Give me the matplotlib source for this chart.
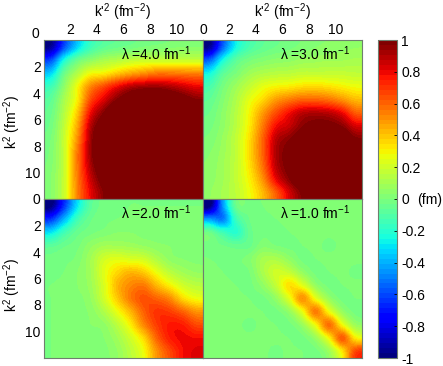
import numpy as np
import matplotlib
matplotlib.use("Agg")
import matplotlib.pyplot as plt
from matplotlib.cm import ScalarMappable
from matplotlib.colors import Normalize

plt.rcParams['font.family'] = ['Liberation Sans', 'DejaVu Sans']
plt.rcParams['mathtext.default'] = 'regular'

# Lower triangles of the symmetric matrices, sampled at k^2 = 0.5, 1.5, ... 11.5
lam4 = [
    [-.95],
    [-.60, -.25],
    [-.33, -.05, .12],
    [-.15, .04, .27, .52],
    [-.07, .10, .30, .65, .82],
    [-.04, .13, .38, .78, .98, 1.15],
    [-.02, .16, .45, .88, 1.08, 1.25, 1.4],
    [.00, .18, .50, .92, 1.15, 1.35, 1.5, 1.6],
    [.01, .18, .55, .93, 1.2, 1.4, 1.55, 1.65, 1.7],
    [.02, .18, .55, .90, 1.12, 1.35, 1.55, 1.65, 1.7, 1.7],
    [.03, .18, .54, .85, 1.05, 1.28, 1.5, 1.6, 1.65, 1.7, 1.7],
    [.03, .18, .53, .80, .98, 1.15, 1.4, 1.55, 1.6, 1.65, 1.7, 1.7],
]
lam3 = [
    [-.95],
    [-.55, -.25],
    [-.25, -.08, .00],
    [-.12, -.01, .08, .17],
    [-.06, .02, .12, .25, .35],
    [-.03, .04, .14, .29, .48, .65],
    [-.01, .05, .15, .31, .55, .78, .86],
    [.01, .07, .17, .34, .60, .88, .97, 1.08],
    [.03, .08, .17, .35, .60, .90, 1.02, 1.18, 1.25],
    [.04, .09, .17, .33, .57, .88, 1.02, 1.18, 1.3, 1.35],
    [.05, .09, .17, .30, .50, .80, .97, 1.12, 1.25, 1.32, 1.35],
    [.06, .10, .16, .27, .42, .62, .84, 1.0, 1.15, 1.25, 1.3, 1.3],
]
lam2 = [
    [-1.0],
    [-.65, -.40],
    [-.30, -.15, -.05],
    [-.08, -.04, -.01, .05],
    [-.02, -.01, .01, .09, .20],
    [-.01, .00, .03, .09, .24, .35],
    [.00, .01, .03, .08, .22, .42, .52],
    [.00, .01, .02, .06, .20, .38, .55, .64],
    [.00, .01, .02, .04, .12, .26, .42, .60, .70],
    [.00, .01, .01, .03, .05, .15, .30, .52, .68, .76],
    [.00, .01, .01, .02, .03, .09, .20, .35, .60, .75, .79],
    [.00, .01, .01, .01, .02, .06, .15, .27, .50, .66, .78, .82],
]
lam1 = [
    [-1.0],
    [-.45, -.50],
    [-.04, -.15, -.20],
    [-.01, -.03, -.05, -.04],
    [.00, -.01, -.01, .02, .10],
    [.01, .00, -.01, .00, .11, .20],
    [.01, .01, .00, -.01, .05, .17, .34],
    [.01, .01, .01, .00, -.01, .06, .24, .50],
    [.01, .01, .01, .01, .00, -.01, .06, .26, .55],
    [.01, .01, .01, -.01, .01, .00, -.01, .07, .28, .58],
    [.01, .01, .01, .01, .01, .01, .00, -.01, .07, .29, .62],
    [.01, .01, .01, .01, .01, -.01, .01, .00, -.01, .08, .32, .66],
]
panel_labels = ["4.0", "3.0", "2.0", "1.0"]
axis_ticks = [2, 4, 6, 8, 10]
cbar_ticks = [-1, -0.8, -0.6, -0.4, -0.2, 0, 0.2, 0.4, 0.6, 0.8, 1]
cbar_labels = ["-1", "-0.8", "-0.6", "-0.4", "-0.2", "0", "0.2", "0.4", "0.6", "0.8", "1"]

W, H = 443, 366
FS = 10
fig = plt.figure(figsize=(W / 100, H / 100), dpi=100)


def px_axes(x0, y0, x1, y1):
    return fig.add_axes([x0 / W, 1 - y1 / H, (x1 - x0) / W, (y1 - y0) / H])


def full(tri):
    m = np.zeros((12, 12))
    for i, row in enumerate(tri):
        for j, v in enumerate(row):
            m[i, j] = m[j, i] = v
    return m


cmap = plt.get_cmap('jet', 64)
EDGE = '#6f7f6f'
boxes = [(44, 40, 203, 199), (203, 40, 362, 199), (44, 199, 203, 358), (203, 199, 362, 358)]
for n, (tri, box, lab) in enumerate(zip([lam4, lam3, lam2, lam1], boxes, panel_labels)):
    ax = px_axes(*box)
    ax.imshow(full(tri), extent=[0, 12, 12, 0], cmap=cmap, vmin=-1, vmax=1, aspect='auto',
              interpolation='catrom', interpolation_stage='data')
    ax.set_xlim(0, 12)
    ax.set_ylim(12, 0)
    for s in ax.spines.values():
        s.set_color(EDGE)
        s.set_linewidth(0.8)
    ax.xaxis.tick_top()
    ax.tick_params(length=0, labelsize=FS, pad=2.4)
    if n < 2:
        ax.set_xticks(([0] if n == 1 else []) + axis_ticks)
    else:
        ax.set_xticks([])
    if n % 2 == 0:
        ax.set_yticks(([0] if n == 2 else []) + axis_ticks)
    else:
        ax.set_yticks([])
    fig.text((box[0] + 77) / W, 1 - (box[1] + 13.5) / H, "λ =" + lab + " fm$^{-1}$",
             fontsize=FS, ha='left', va='center')

fig.text(35.5 / W, 1 - 34.5 / H, "0", fontsize=FS, ha='center', va='center')
for x in (122, 282):
    fig.text(x / W, 1 - 12 / H, "k'$^{2}$ (fm$^{-2}$)", fontsize=FS, ha='center', va='center')
for y in (122, 285):
    fig.text(12 / W, 1 - y / H, "k$^{2}$ (fm$^{-2}$)", fontsize=FS, ha='center', va='center', rotation=90)

cax = px_axes(378, 40, 397, 358)
cb = fig.colorbar(ScalarMappable(Normalize(-1, 1), cmap), cax=cax)
cb.set_ticks(cbar_ticks)
cb.set_ticklabels(cbar_labels)
cb.outline.set_edgecolor(EDGE)
cb.outline.set_linewidth(0.8)
cax.tick_params(axis='y', direction='in', length=2.5, width=0.6, labelsize=FS, pad=3, color='black')
fig.text(417 / W, 1 - 200 / H, "(fm)", fontsize=FS, ha='left', va='center')

fig.savefig("out.png", dpi=100)
